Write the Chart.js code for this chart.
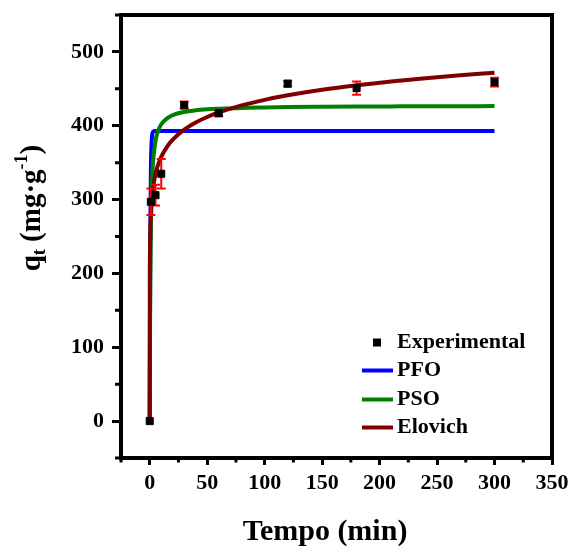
<!DOCTYPE html>
<html>
<head>
<meta charset="utf-8">
<script src="https://cdn.jsdelivr.net/npm/chart.js@4/dist/chart.umd.min.js"></script>
<style>
  html, body { margin: 0; padding: 0; background: #ffffff; }
  #wrap { width: 571px; height: 546px; }
</style>
</head>
<body>
<div id="wrap"><canvas id="chart" width="571" height="546"></canvas></div>
<script>
// Adsorption kinetics: measured uptake and model fits
const times = [0, 1, 5, 10, 30, 60, 120, 180, 300];            // min
const qExp  = [0, 297, 306, 335, 428, 417, 457, 451, 459];      // mg/g
const qErr  = [0, 18, 14, 20, 5, 4, 4, 9, 6];                    // mg/g

const tFit    = [0, 0.05, 0.2, 0.5, 1, 2, 3, 5, 7, 10, 15, 20, 30, 40, 50, 60, 80, 100, 120, 150, 180, 210, 240, 270, 300];
const qPFO    = [0, 37, 129, 248, 340, 386, 392, 393, 393, 393, 393, 393, 393, 393, 393, 393, 393, 393, 393, 393, 393, 393, 393, 393, 393];
const qPSO    = [0, 31.3, 102.8, 189.0, 262.0, 325.0, 353.0, 379.5, 392.0, 402.0, 410.0, 414.4, 418.7, 420.9, 422.2, 423.0, 424.2, 424.8, 425.3, 425.7, 426.0, 426.2, 426.4, 426.5, 426.6];
const qElovich= [0, 180.8, 227.1, 257.8, 281.0, 304.2, 317.6, 334.7, 346.0, 357.9, 371.5, 381.2, 394.8, 404.4, 411.9, 418.0, 427.6, 435.1, 441.2, 448.7, 454.8, 460.0, 464.4, 468.4, 471.9];

const xTicks = [0, 50, 100, 150, 200, 250, 300, 350];
const yTicks = [0, 100, 200, 300, 400, 500];
const xMinor = [-25, 25, 75, 125, 175, 225, 275, 325];
const yMinor = [-50, 50, 150, 250, 350, 450, 550];

const FONT = '"Liberation Serif", "Times New Roman", serif';

const toXY = (xs, ys) => xs.map((x, i) => ({ x: x, y: ys[i] }));

// Error bars for the measured points, drawn just before the markers
const errorBars = {
  id: 'errorBars',
  beforeDatasetDraw(chart, args) {
    if (args.index !== 0) return;
    const { ctx, scales: { x, y } } = chart;
    ctx.save();
    ctx.strokeStyle = '#ff0000';
    ctx.lineWidth = 2;
    times.forEach((t, i) => {
      if (!qErr[i]) return;
      const px = x.getPixelForValue(t);
      const yTop = y.getPixelForValue(qExp[i] + qErr[i]);
      const yBot = y.getPixelForValue(qExp[i] - qErr[i]);
      ctx.beginPath();
      ctx.moveTo(px, yTop); ctx.lineTo(px, yBot);
      ctx.moveTo(px - 4.5, yTop); ctx.lineTo(px + 4.5, yTop);
      ctx.moveTo(px - 4.5, yBot); ctx.lineTo(px + 4.5, yBot);
      ctx.stroke();
    });
    ctx.restore();
  }
};

// Frame, minor ticks, axis titles and legend
const decorations = {
  id: 'decorations',
  afterDraw(chart) {
    const { ctx, chartArea: a, scales: { x, y } } = chart;
    ctx.save();
    // frame
    ctx.strokeStyle = '#000';
    ctx.lineWidth = 4;
    ctx.strokeRect(a.left, a.top, a.right - a.left, a.bottom - a.top);
    // minor ticks
    ctx.lineWidth = 3;
    ctx.beginPath();
    xMinor.forEach(v => {
      const px = x.getPixelForValue(v);
      ctx.moveTo(px, a.bottom); ctx.lineTo(px, a.bottom + 4.5);
    });
    yMinor.forEach(v => {
      const py = y.getPixelForValue(v);
      ctx.moveTo(a.left, py); ctx.lineTo(a.left - 6, py);
    });
    ctx.stroke();

    ctx.fillStyle = '#000';
    // x title
    ctx.font = 'bold 30px ' + FONT;
    ctx.textAlign = 'center';
    ctx.textBaseline = 'alphabetic';
    ctx.fillText('Tempo (min)', 325, 540);

    // y title with subscript and superscript
    const parts = [
      { t: 'q', f: 'bold 29px ' + FONT, dy: 0 },
      { t: 't', f: 'bold 18px ' + FONT, dy: 5 },
      { t: ' (mg\u00b7g', f: 'bold 29px ' + FONT, dy: 0 },
      { t: '-1', f: 'bold 18px ' + FONT, dy: -13 },
      { t: ')', f: 'bold 29px ' + FONT, dy: 0 }
    ];
    let total = 0;
    parts.forEach(p => { ctx.font = p.f; p.w = ctx.measureText(p.t).width; total += p.w; });
    ctx.save();
    ctx.translate(40, 208);
    ctx.rotate(-Math.PI / 2);
    ctx.textAlign = 'left';
    let cx = -total / 2;
    parts.forEach(p => { ctx.font = p.f; ctx.fillText(p.t, cx, p.dy); cx += p.w; });
    ctx.restore();

    // legend
    const rowBase = [348, 376, 405, 433];
    ctx.font = 'bold 22px ' + FONT;
    ctx.textAlign = 'left';
    chart.data.datasets.forEach((ds, i) => {
      const base = rowBase[i];
      const mid = base - 5.5;
      if (ds.showLine) {
        ctx.strokeStyle = ds.borderColor;
        ctx.lineWidth = 4;
        ctx.beginPath();
        ctx.moveTo(362, mid); ctx.lineTo(393, mid);
        ctx.stroke();
      } else {
        ctx.fillStyle = ds.backgroundColor;
        ctx.fillRect(373, mid - 4, 8, 8);
      }
      ctx.fillStyle = '#000';
      ctx.fillText(ds.label, 397, base);
    });
    ctx.restore();
  }
};

new Chart(document.getElementById('chart'), {
  type: 'scatter',
  data: {
    datasets: [
      {
        label: 'Experimental',
        data: toXY(times, qExp),
        pointStyle: 'rect',
        pointRadius: 5,
        pointBorderWidth: 1,
        backgroundColor: '#000000',
        borderColor: '#000000',
        order: 0
      },
      {
        label: 'PFO',
        data: toXY(tFit, qPFO),
        showLine: true,
        borderColor: '#0000ff',
        backgroundColor: '#0000ff',
        borderWidth: 4,
        pointRadius: 0,
        cubicInterpolationMode: 'monotone',
        order: 3
      },
      {
        label: 'PSO',
        data: toXY(tFit, qPSO),
        showLine: true,
        borderColor: '#008000',
        backgroundColor: '#008000',
        borderWidth: 4,
        pointRadius: 0,
        cubicInterpolationMode: 'monotone',
        order: 2
      },
      {
        label: 'Elovich',
        data: toXY(tFit, qElovich),
        showLine: true,
        borderColor: '#800000',
        backgroundColor: '#800000',
        borderWidth: 4,
        pointRadius: 0,
        cubicInterpolationMode: 'monotone',
        order: 1
      }
    ]
  },
  options: {
    responsive: false,
    animation: false,
    devicePixelRatio: 1,
    layout: { padding: { left: 0, top: 15, right: 19, bottom: 0 } },
    plugins: { legend: { display: false }, tooltip: { enabled: false } },
    scales: {
      x: {
        type: 'linear',
        min: -25,
        max: 350,
        afterBuildTicks(scale) { scale.ticks = xTicks.map(v => ({ value: v })); },
        afterFit(scale) { scale.height = 88; scale.paddingLeft = 0; scale.paddingRight = 0; },
        grid: { drawOnChartArea: false, drawTicks: true, tickLength: 7, tickWidth: 3, tickColor: '#000' },
        border: { display: false },
        ticks: { color: '#000', padding: 5, maxRotation: 0, autoSkip: false, font: { family: FONT, size: 22, weight: 'bold' } },
        title: { display: false }
      },
      y: {
        type: 'linear',
        min: -50,
        max: 550,
        afterBuildTicks(scale) { scale.ticks = yTicks.map(v => ({ value: v })); },
        afterFit(scale) { scale.width = 121; scale.paddingTop = 0; scale.paddingBottom = 0; },
        grid: { drawOnChartArea: false, drawTicks: true, tickLength: 9, tickWidth: 3, tickColor: '#000' },
        border: { display: false },
        ticks: { color: '#000', padding: 8, autoSkip: false, font: { family: FONT, size: 22, weight: 'bold' } },
        title: { display: false }
      }
    }
  },
  plugins: [errorBars, decorations]
});
</script>
</body>
</html>
